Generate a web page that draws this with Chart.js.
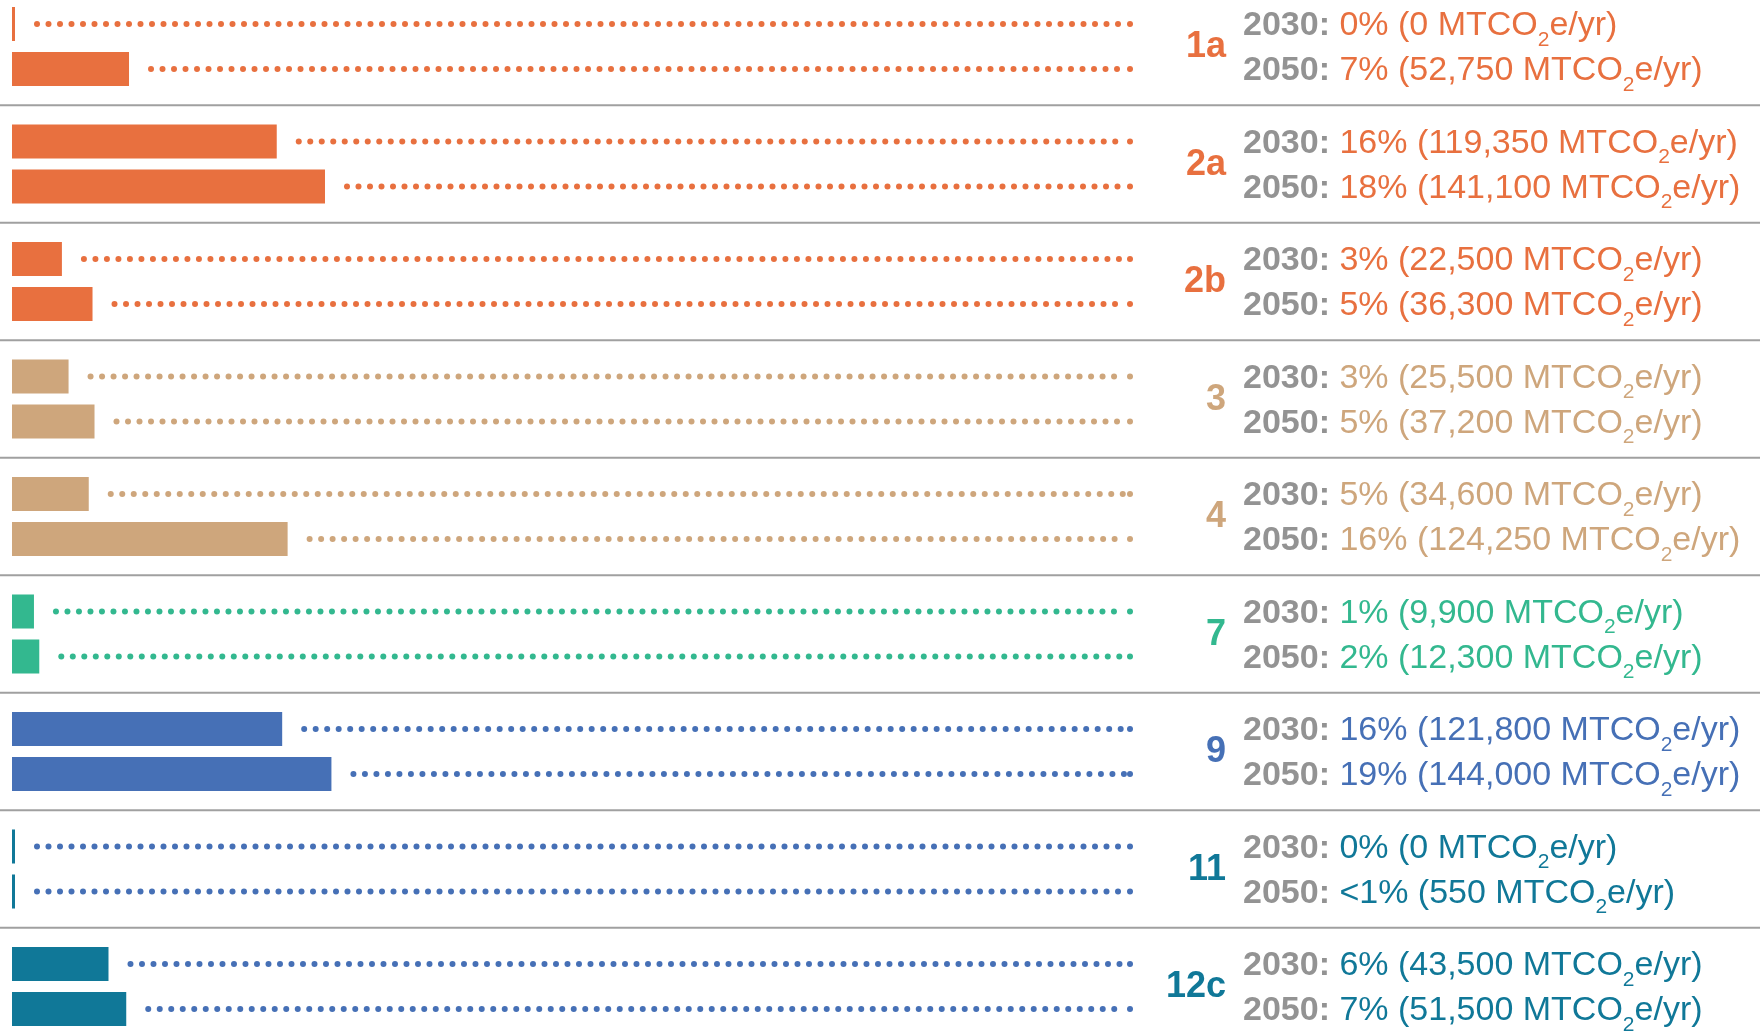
<!DOCTYPE html>
<html>
<head>
<meta charset="utf-8">
<script src="https://cdn.jsdelivr.net/npm/chart.js@4"></script>
<style>
  html, body { margin: 0; padding: 0; background: #fff; }
  canvas { display: block; }
</style>
</head>
<body>
<canvas id="chart" width="1760" height="1031"></canvas>
<script>
// Strategies and their reductions (MTCO2e/yr)
var groups = ['1a', '2a', '2b', '3', '4', '7', '9', '11', '12c'];
var years = ['2030', '2050'];
var values2030 = [0, 119350, 22500, 25500, 34600, 9900, 121800, 0, 43500];
var values2050 = [52750, 141100, 36300, 37200, 124250, 12300, 144000, 550, 51500];
var share2030 = ['0%', '16%', '3%', '3%', '5%', '1%', '16%', '0%', '6%'];
var share2050 = ['7%', '18%', '5%', '5%', '16%', '2%', '19%', '<1%', '7%'];

// Colours per strategy
var barColors = ['#e8703f', '#e8703f', '#e8703f', '#cea67c', '#cea67c', '#33b88f', '#4670b6', '#107898', '#107898'];
var dotColors = ['#e8703f', '#e8703f', '#e8703f', '#cea67c', '#cea67c', '#33b88f', '#4670b6', '#4670b6', '#4670b6'];
var grey = '#939393';
var font = "'Liberation Sans', Arial, sans-serif";

var shares = [share2030, share2050];

// leaders, separators and text labels
var decor = {
  id: 'decor',
  afterDatasetsDraw: function (chart) {
    var ctx = chart.ctx;
    var area = chart.chartArea;
    var yScale = chart.scales.y;
    var dotEnd = area.right;
    ctx.save();

    // separators between strategies
    ctx.strokeStyle = '#a0a0a0';
    ctx.lineWidth = 2;
    for (var g = 0; g < groups.length - 1; g++) {
      var ys = (yScale.getPixelForValue(g) + yScale.getPixelForValue(g + 1)) / 2;
      ctx.beginPath();
      ctx.moveTo(0, ys);
      ctx.lineTo(chart.width, ys);
      ctx.stroke();
    }

    chart.data.datasets.forEach(function (ds, di) {
      var meta = chart.getDatasetMeta(di);
      meta.data.forEach(function (bar, i) {
        var end = Math.max(bar.x, bar.base);
        var y = bar.y;

        // dotted leader to the label column
        ctx.fillStyle = dotColors[i];
        var x = end + 22;
        while (x <= dotEnd - 5) {
          ctx.beginPath();
          ctx.arc(x, y, 3, 0, Math.PI * 2);
          ctx.fill();
          x += 11.5;
        }
        ctx.beginPath();
        ctx.arc(dotEnd, y, 3, 0, Math.PI * 2);
        ctx.fill();

        // "2030: 16% (119,350 MTCO2e/yr)"
        var tx = 1243;
        var ty = y + 2;
        ctx.textBaseline = 'middle';
        ctx.textAlign = 'left';
        ctx.font = 'bold 34px ' + font;
        ctx.fillStyle = grey;
        var head = years[di] + ': ';
        ctx.fillText(head, tx, ty);
        tx += ctx.measureText(head).width;

        ctx.font = '34px ' + font;
        ctx.fillStyle = barColors[i];
        var part1 = shares[di][i] + ' (' + ds.data[i].toLocaleString('en-US') + ' MTCO';
        ctx.fillText(part1, tx, ty);
        tx += ctx.measureText(part1).width;

        ctx.font = '21px ' + font;
        ctx.fillText('2', tx, ty + 14);
        tx += ctx.measureText('2').width;

        ctx.font = '34px ' + font;
        ctx.fillText('e/yr)', tx, ty);
      });
    });

    // strategy numbers
    ctx.textAlign = 'right';
    ctx.textBaseline = 'middle';
    ctx.font = 'bold 36px ' + font;
    groups.forEach(function (name, g) {
      ctx.fillStyle = barColors[g];
      ctx.fillText(name, 1226, yScale.getPixelForValue(g) + 1);
    });

    ctx.restore();
  }
};

var ctx = document.getElementById('chart').getContext('2d');
var chart = new Chart(ctx, {
  type: 'bar',
  data: {
    labels: groups,
    datasets: [{
      label: years[0],
      data: values2030,
      backgroundColor: barColors,
      categoryPercentage: 0.766,
      barPercentage: 0.756,
      minBarLength: 3,
      clip: false
    }, {
      label: years[1],
      data: values2050,
      backgroundColor: barColors,
      categoryPercentage: 0.766,
      barPercentage: 0.756,
      minBarLength: 3,
      clip: false
    }]
  },
  options: {
    indexAxis: 'y',
    responsive: false,
    animation: false,
    layout: { padding: { left: 12, right: 630, top: 46.5, bottom: 44.5 } },
    scales: {
      x: { display: false, min: 0, max: 504000 },
      y: { display: false, offset: false }
    },
    plugins: {
      legend: { display: false },
      tooltip: { enabled: false }
    }
  },
  plugins: [decor]
});
</script>
</body>
</html>
